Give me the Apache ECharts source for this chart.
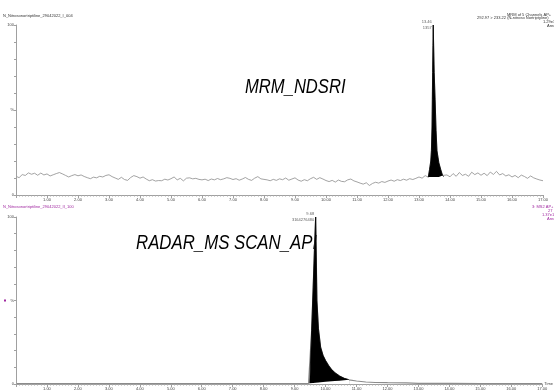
<!DOCTYPE html>
<html>
<head>
<meta charset="utf-8">
<script src="https://cdn.jsdelivr.net/npm/echarts@6/dist/echarts.min.js"></script>
<style>
html, body { margin: 0; padding: 0; background: #fff; }
#chart { width: 554px; height: 391px; }
</style>
</head>
<body>
<div id="chart"></div>
<script>
// MRM trace, baseline noise every 0.1 min (0.0 - 13.2 and 13.9 - 17.0)
var noiseBeforeStart = 0.0;
var noiseBefore = [
    11.0, 10.2, 12.0, 11.5, 13.0, 12.2, 12.8, 11.6, 12.9, 11.8,
    12.4, 11.2, 11.9, 12.6, 13.2, 12.4, 11.5, 10.6, 11.4, 12.0,
    11.3, 11.8, 10.9, 10.2, 9.6, 10.5, 10.1, 11.0, 10.6, 11.5,
    11.9, 10.8, 10.0, 9.2, 10.4, 9.1, 8.6, 10.3, 11.4, 10.8,
    9.9, 10.6, 9.4, 8.4, 9.0, 8.2, 8.5, 8.4, 9.3, 8.8,
    9.6, 10.6, 8.9, 9.8, 8.3, 9.9, 10.1, 9.5, 9.8, 9.2,
    8.9, 9.3, 8.5, 9.4, 8.9, 9.7, 9.0, 9.5, 10.2, 9.8,
    9.1, 9.6, 8.7, 9.4, 10.3, 9.2, 8.6, 9.9, 10.8, 9.5,
    9.2, 8.9, 8.4, 9.2, 8.6, 9.5, 9.0, 10.0, 8.7, 9.4,
    10.1, 8.8, 8.1, 9.0, 8.4, 9.6, 10.4, 9.2, 10.2, 9.4,
    8.5, 7.9, 8.6, 7.6, 8.8, 8.0, 7.8, 8.9, 9.4, 8.3,
    7.7, 7.0, 6.4, 7.2, 5.6, 6.8, 7.5, 7.0, 7.9, 7.4,
    8.2, 8.8, 8.1, 9.0, 8.5, 9.3, 8.7, 9.6, 9.1, 9.8,
    10.6, 9.9, 11.4
];
var noiseAfterStart = 13.9;
var noiseAfter = [
    11.8, 10.7, 12.6, 11.0, 13.2, 11.5, 12.2, 11.0, 13.4, 12.0,
    13.0, 11.6, 12.8, 11.4, 13.5, 12.1, 13.9, 11.8, 12.6, 11.2,
    11.9, 10.6, 11.5, 10.2, 11.7, 10.9, 9.8, 11.2, 10.1, 9.4,
    8.8, 8.4
];
// MRM peak, integrated down to a flat baseline
var mrmPeakTime = [13.30, 13.34, 13.38, 13.40, 13.42, 13.43, 13.44, 13.45, 13.46, 13.47, 13.49, 13.52, 13.55, 13.58, 13.64, 13.70, 13.76, 13.80];
var mrmPeakValue = [10.5, 15, 20, 26, 40, 56, 72, 88, 100, 90, 72, 56, 38, 26, 19, 15, 11.5, 10.8];
var mrmBaseLevel = 10.6;

// MS scan trace
var scanTime = [0, 3, 6, 9, 9.45, 9.49, 9.55, 9.60, 9.64, 9.68, 9.70, 9.72, 9.77, 9.84, 9.92, 10.0, 10.1, 10.2, 10.3, 10.45, 10.6, 10.76, 11.0, 11.3, 11.6, 12.0, 12.6, 13.0, 14.0, 15.0, 16.0, 17.0];
var scanValue = [0.3, 0.3, 0.3, 0.3, 0.3, 0.5, 32, 58, 80, 100, 76, 50, 33, 22, 17, 14, 11, 8.5, 6.8, 4.8, 3.4, 2.5, 1.8, 1.2, 0.9, 0.8, 0.7, 0.4, 0.35, 0.3, 0.3, 0.3];
var scanPeakFrom = 5, scanPeakTo = 21;
var scanPeakBase = [0.5, 0.6, 0.67, 0.74, 0.8, 0.83, 0.86, 0.94, 1.05, 1.18, 1.3, 1.46, 1.62, 1.77, 2.0, 2.25, 2.5];

// peak annotations
var peakRT = [13.46, 9.68];
var peakArea = ['1357', '3164276480'];

var xTicks = { min: 0, max: 17, interval: 1 };

var chart = echarts.init(document.getElementById('chart'));

function buildMrm() {
    var pts = [];
    for (var i = 0; i < noiseBefore.length; i++) {
        pts.push([+(noiseBeforeStart + i * 0.1).toFixed(2), noiseBefore[i]]);
    }
    for (var j = 0; j < mrmPeakTime.length; j++) {
        pts.push([mrmPeakTime[j], mrmPeakValue[j]]);
    }
    for (var k = 0; k < noiseAfter.length; k++) {
        pts.push([+(noiseAfterStart + k * 0.1).toFixed(2), noiseAfter[k]]);
    }
    return pts;
}

var mrmLine = buildMrm();
var mrmPeak = [];
for (var i = 0; i < mrmPeakTime.length; i++) {
    mrmPeak.push([mrmPeakTime[i], mrmPeakValue[i]]);
}

var scanLine = [], scanPeak = [], scanBase = [];
for (var i = 0; i < scanTime.length; i++) {
    scanLine.push([scanTime[i], scanValue[i]]);
    if (i >= scanPeakFrom && i <= scanPeakTo) {
        scanPeak.push([scanTime[i], scanValue[i]]);
        scanBase.push([scanTime[i], scanPeakBase[i - scanPeakFrom]]);
    }
}

function xAxisOf(idx, withName) {
    return {
        type: 'value',
        gridIndex: idx,
        z: 10,
        min: xTicks.min,
        max: xTicks.max,
        interval: xTicks.interval,
        name: withName ? 'Time' : '',
        nameLocation: 'end',
        nameGap: 2,
        nameTextStyle: { fontSize: 4, color: '#444', fontFamily: 'Liberation Sans' },
        axisLine: { lineStyle: { color: '#a0a0a0', width: 1 } },
        axisTick: { length: 3, lineStyle: { color: '#a0a0a0' } },
        minorTick: { show: true, splitNumber: 10, length: 1.5, lineStyle: { color: '#a8a8a8' } },
        splitLine: { show: false },
        minorSplitLine: { show: false },
        axisLabel: {
            fontSize: 4, color: '#444', margin: 3, fontFamily: 'Liberation Sans',
            showMinLabel: false,
            formatter: function (v) { return v.toFixed(2); }
        }
    };
}

function yAxisOf(idx) {
    return {
        type: 'value',
        gridIndex: idx,
        z: 10,
        min: 0,
        max: 100,
        interval: 10,
        axisLine: { show: true, lineStyle: { color: '#a0a0a0', width: 1 } },
        axisTick: { show: true, length: 2, lineStyle: { color: '#a0a0a0' } },
        splitLine: { show: false },
        axisLabel: {
            fontSize: 4, color: '#444', margin: 2, fontFamily: 'Liberation Sans',
            formatter: function (v) {
                if (v === 0) return '0';
                if (v === 100) return '100';
                if (v === 50) return '%';
                return '';
            }
        }
    };
}

function txt(x, y, s, color) {
    return { type: 'text', x: x, y: y, style: { text: s, fill: color, fontSize: 4, fontFamily: 'Liberation Sans', textVerticalAlign: 'middle' } };
}

var purple = '#a028a0';

function lineSeries(ax, data, color, width, fill, z, origin) {
    return {
        type: 'line', xAxisIndex: ax, yAxisIndex: ax, data: data,
        showSymbol: false, silent: true, z: z,
        lineStyle: { color: color, width: width, opacity: width ? 1 : 0 },
        areaStyle: fill ? { color: fill, opacity: 1, origin: origin == null ? 'auto' : origin } : null
    };
}

function peakLabel(ax, idx) {
    return {
        type: 'scatter', xAxisIndex: ax, yAxisIndex: ax, silent: true, z: 6,
        symbolSize: 1, itemStyle: { color: 'rgba(0,0,0,0)' },
        data: [[peakRT[idx], 100]],
        label: {
            show: true, position: 'left', distance: 1, align: 'right',
            fontSize: 4, lineHeight: 5.5, color: '#333', fontFamily: 'Liberation Sans',
            formatter: peakRT[idx].toFixed(2) + '\n' + peakArea[idx]
        }
    };
}

option = {
    animation: false,
    backgroundColor: '#fff',
    grid: [
        { left: 16, right: 11, top: 25, bottom: 196 },
        { left: 16, right: 11, top: 217, bottom: 7 }
    ],
    xAxis: [xAxisOf(0, false), xAxisOf(1, true)],
    yAxis: [yAxisOf(0), yAxisOf(1)],
    graphic: [
        txt(3, 15.5, 'N_Nitrosonortriptiline_29042022_I_004', '#333'),
        txt(507, 14.7, 'MRM of 5 Channels AP+', '#333'),
        txt(477, 18.3, '292.97 > 233.22 (N-nitroso Nortriptyline)', '#333'),
        txt(543, 22, '1.29e3', '#333'),
        txt(547, 25.7, 'Area', '#333'),
        txt(3, 206.7, 'N_Nitrosonortriptiline_29042022_II_100', purple),
        txt(532, 206.7, '3: MS2 AP+', purple),
        txt(548, 210.7, '27', purple),
        txt(542, 214.7, '1.37e1', purple),
        txt(547, 218.7, 'Area', purple),
        { type: 'rect', shape: { x: 4, y: 299.5, width: 2, height: 2 }, style: { fill: purple } },
        {
            type: 'text', x: 245, y: 87, scaleX: 0.83,
            style: { text: 'MRM_NDSRI', fill: '#000', fontSize: 20, fontStyle: 'italic', fontFamily: 'Liberation Sans', textVerticalAlign: 'middle' }
        },
        {
            type: 'text', x: 136, y: 243, scaleX: 0.84,
            style: { text: 'RADAR_MS SCAN_API', fill: '#000', fontSize: 20, fontStyle: 'italic', fontFamily: 'Liberation Sans', textVerticalAlign: 'middle' }
        }
    ],
    series: [
        lineSeries(0, mrmLine, '#8c8c8c', 0.8, null, 2),
        lineSeries(0, mrmPeak, '#000', 0.8, '#000', 3, mrmBaseLevel),
        lineSeries(1, scanLine, '#8c8c8c', 1.2, null, 2),
        lineSeries(1, scanPeak, '#000', 0.8, '#000', 3),
        lineSeries(1, scanBase, '#fff', 0, '#fff', 4),
        peakLabel(0, 0),
        peakLabel(1, 1)
    ]
};
chart.setOption(option);
window.addEventListener('resize', chart.resize);
</script>
</body>
</html>
